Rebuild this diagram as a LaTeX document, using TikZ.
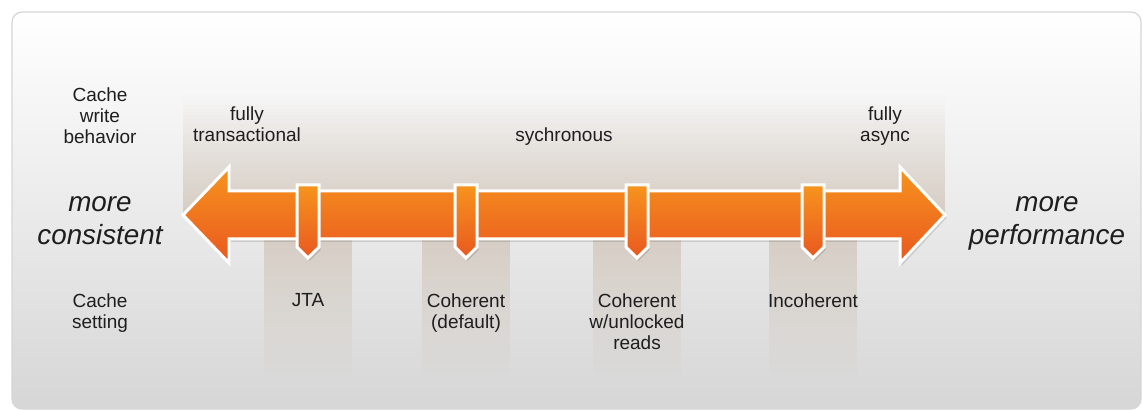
\documentclass[tikz,border=0pt]{standalone}
\usepackage{fontspec}
\setmainfont{Liberation Sans}
\usetikzlibrary{fadings}

\definecolor{arrowtop}{HTML}{F7941E}
\definecolor{arrowbot}{HTML}{E9581F}
\definecolor{bandtan}{HTML}{CBBDAE}
\definecolor{panelborder}{HTML}{D6D6D6}
\definecolor{labeltext}{HTML}{1E1E1E}

\begin{document}
\begin{tikzpicture}[x=0.5pt, y=-0.5pt,
    label/.style={text=labeltext, font=\fontsize{9.5}{10.5}\selectfont, align=center, inner sep=0pt},
    bigtext/.style={text=labeltext, font=\fontsize{13.9}{16.5}\selectfont\itshape, align=center, inner sep=0pt},
    band/.style={fill=bandtan},
    orangebox/.style={top color=arrowtop, bottom color=arrowbot, draw=white, line width=1.5pt, line join=miter}]

    \useasboundingbox (0,0) rectangle (1143,410);

    % Panel
    \draw[panelborder, line width=0.6pt, top color=white, middle color=black!6, bottom color=black!16, rounded corners=5pt]
        (12,12) rectangle (1141,409);

    % Bands behind the arrow
    \fill[band, opacity=0.65, path fading=north] (183,95) rectangle (945,215);
    \foreach \x in {308,466,637,813} {
        \fill[band, opacity=0.7, path fading=south] (\x-44,215) rectangle (\x+44,378);
    }

    % Double arrow
    \fill[black, opacity=0.12, shift={(1.5,3)}]
        (183,215) -- (229,167) -- (229,191) -- (900,191) -- (900,167) -- (945,215)
        -- (900,263) -- (900,239) -- (229,239) -- (229,263) -- cycle;
    \draw[orangebox] (183,215) -- (229,167) -- (229,191) -- (900,191) -- (900,167) -- (945,215)
        -- (900,263) -- (900,239) -- (229,239) -- (229,263) -- cycle;

    % Markers
    \foreach \x in {308,466,637,813} {
        \fill[black, opacity=0.12, shift={(1.5,3)}] (\x-11,185) -- (\x+11,185) -- (\x+11,247) -- (\x,258) -- (\x-11,247) -- cycle;
        \draw[orangebox] (\x-11,185) -- (\x+11,185) -- (\x+11,247) -- (\x,258) -- (\x-11,247) -- cycle;
    }

    % Write behavior row
    \node[label, anchor=north] (writehdr) at (100,87) {Cache\\write\\behavior};
    \node[label, anchor=north] (transact) at (247,106) {fully\\transactional};
    \node[label, anchor=base] (sync) at (564,142) {sychronous};
    \node[label, anchor=north] (async) at (885,106) {fully\\async};

    % Ends
    \node[bigtext, anchor=north] (consistent) at (100,196) {more\\consistent};
    \node[bigtext, anchor=north] (performance) at (1047,196) {more\\performance};

    % Cache settings row
    \node[label, anchor=north] (settinghdr) at (100,293) {Cache\\setting};
    \foreach \x/\name/\txt in {308/jta/JTA, 466/coherent/{Coherent\\(default)},
                               637/unlocked/{Coherent\\w/unlocked\\reads}, 813/incoherent/Incoherent} {
        \node[label, anchor=north] (\name) at (\x,293) {\txt};
    }

\end{tikzpicture}
\end{document}
